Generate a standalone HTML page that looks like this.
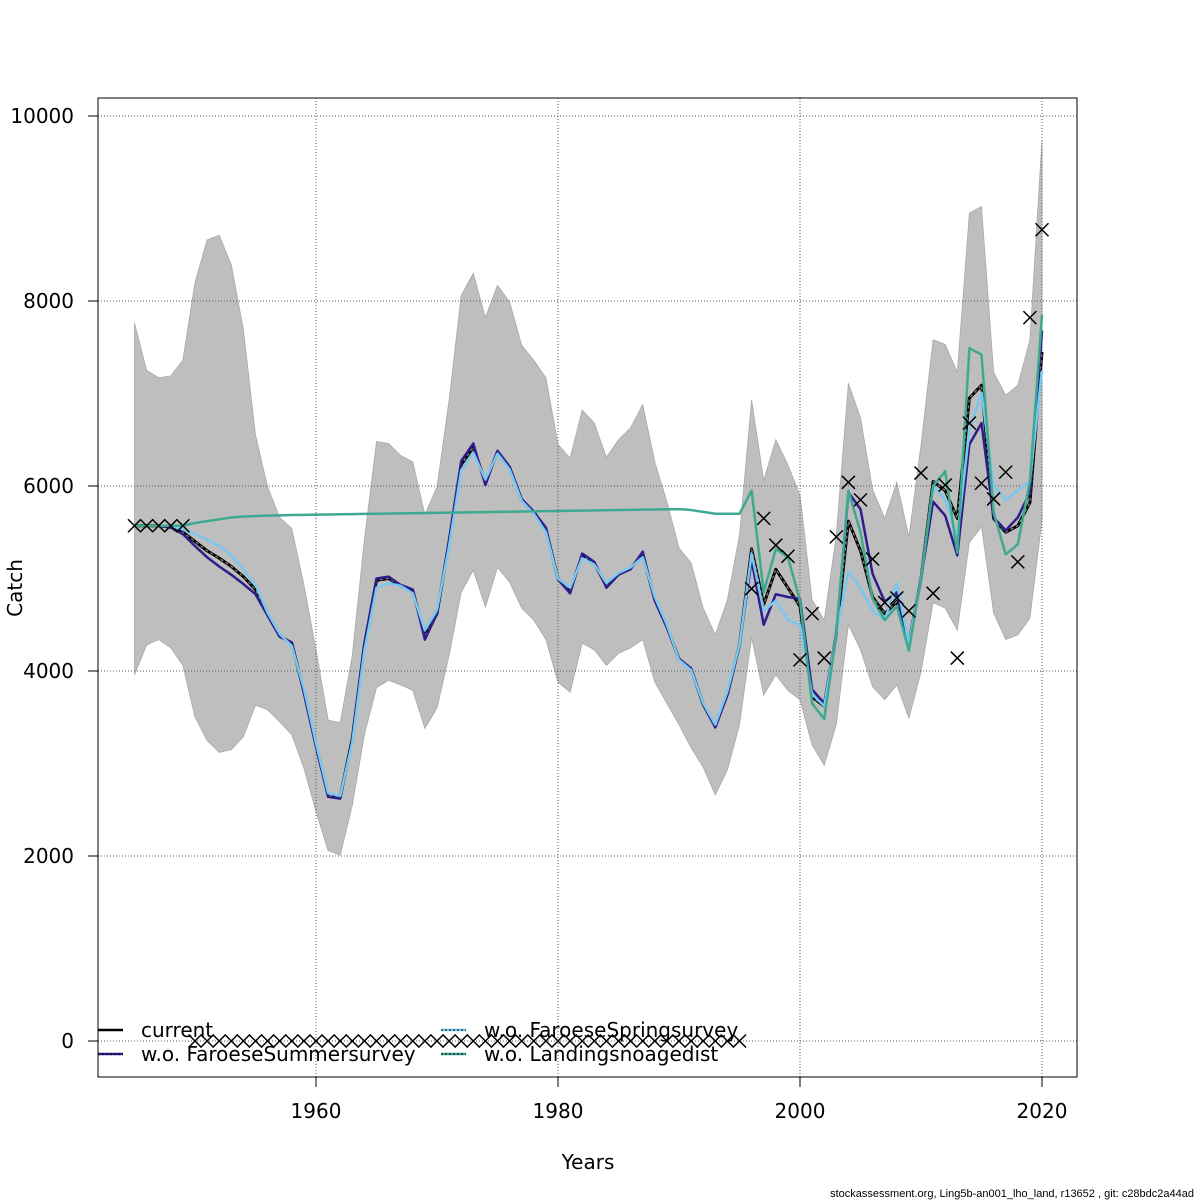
<!DOCTYPE html>
<html><head><meta charset="utf-8"><style>
html,body{margin:0;padding:0;background:#fff;}
svg{display:block;font-family:"DejaVu Sans","Liberation Sans",sans-serif;}
</style></head><body>
<svg id="chart" width="1200" height="1200" viewBox="0 0 1200 1200" xmlns="http://www.w3.org/2000/svg">
<rect x="0" y="0" width="1200" height="1200" fill="#fff"/>
<g id="band"></g>
<g id="grid"></g>
<g id="lines"></g>
<g id="obs"></g>
<rect x="98" y="98" width="979" height="979" fill="none" stroke="#000" stroke-width="1"/>
<g id="axes"></g>
<text x="0" y="0" transform="translate(22,588) rotate(-90)" text-anchor="middle" font-size="20">Catch</text>
<text x="588" y="1169" text-anchor="middle" font-size="20">Years</text>
<text x="1194" y="1197" text-anchor="end" font-size="11" font-family="Liberation Sans, sans-serif">stockassessment.org, Ling5b-an001_lho_land, r13652 , git: c28bdc2a44ad</text>
<g id="legend"></g>
</svg>
<script>
const years = [];
for (let y = 1945; y <= 2020; y++) years.push(y);
const upper = [7760,7250,7170,7190,7360,8200,8660,8710,8390,7690,6550,5990,5660,5540,4930,4230,3470,3440,4170,5420,6480,6460,6330,6260,5690,5990,6930,8060,8300,7820,8170,7990,7520,7360,7170,6450,6300,6820,6680,6310,6500,6630,6880,6260,5830,5330,5170,4680,4390,4770,5470,6930,6060,6500,6230,5900,4770,4550,5470,7110,6740,5960,5650,6040,5450,6440,7580,7530,7230,8950,9020,7230,6980,7090,7580,9740];
const lower = [3960,4280,4340,4250,4060,3500,3250,3120,3150,3290,3630,3580,3450,3310,2950,2480,2060,2010,2550,3310,3820,3900,3850,3790,3380,3600,4170,4850,5090,4690,5120,4960,4680,4550,4340,3880,3770,4300,4230,4060,4190,4250,4340,3880,3650,3420,3170,2960,2660,2930,3420,4360,3740,3960,3790,3690,3200,2980,3420,4500,4230,3830,3690,3850,3490,3990,4740,4680,4440,5390,5560,4630,4340,4390,4570,5630];
const current = [5570,5570,5570,5560,5500,5400,5300,5220,5130,5020,4880,4620,4380,4300,3780,3200,2660,2640,3270,4280,4980,5000,4920,4870,4380,4620,5400,6230,6420,6040,6370,6200,5850,5720,5530,5000,4870,5250,5160,4920,5050,5110,5260,4770,4480,4130,4020,3640,3400,3750,4280,5320,4720,5100,4900,4700,3720,3620,4400,5620,5300,4800,4620,4750,4300,5000,6050,5950,5650,6950,7090,5650,5500,5570,5820,7450];
const summer = [5570,5570,5570,5550,5480,5350,5230,5130,5040,4940,4830,4600,4370,4310,3760,3180,2640,2620,3260,4300,5000,5020,4930,4880,4340,4620,5420,6270,6460,6010,6380,6210,5860,5720,5550,4990,4840,5270,5180,4900,5040,5100,5290,4760,4470,4130,4030,3650,3390,3740,4280,5200,4500,4830,4800,4780,3800,3650,4400,5930,5750,5050,4750,4850,4250,5000,5830,5680,5250,6450,6680,5660,5520,5660,5930,7680];
const spring = [5570,5570,5570,5570,5530,5480,5420,5350,5250,5100,4930,4630,4400,4270,3810,3220,2680,2650,3230,4220,4900,4950,4920,4840,4440,4660,5350,6170,6360,6070,6350,6180,5840,5700,5500,5000,4900,5220,5150,4950,5060,5120,5230,4800,4500,4120,4010,3650,3420,3780,4280,5270,4650,4760,4550,4500,3750,3620,4400,5080,4900,4650,4550,4950,4300,5000,6000,5850,5450,6600,7010,6000,5850,5950,6050,7250];
const landings = [5570,5570,5570,5570,5570,5600,5620,5640,5660,5670,5675,5680,5683,5686,5688,5690,5692,5694,5696,5698,5700,5702,5704,5706,5708,5710,5712,5714,5716,5718,5720,5722,5724,5726,5728,5730,5732,5734,5736,5738,5740,5742,5744,5746,5748,5750,5740,5720,5700,5700,5700,5950,4850,5320,5230,4760,3650,3480,4400,5950,5500,4780,4550,4700,4220,5000,6000,6160,5280,7490,7420,5720,5260,5370,6050,7850];
const obsYears = [1945,1946,1947,1948,1949,1950,1951,1952,1953,1954,1955,1956,1957,1958,1959,1960,1961,1962,1963,1964,1965,1966,1967,1968,1969,1970,1971,1972,1973,1974,1975,1976,1977,1978,1979,1980,1981,1982,1983,1984,1985,1986,1987,1988,1989,1990,1991,1992,1993,1994,1995,1996,1997,1998,1999,2000,2001,2002,2003,2004,2005,2006,2007,2008,2009,2010,2011,2012,2013,2014,2015,2016,2017,2018,2019,2020];
const obsValues = [5570,5570,5570,5570,5570,0,0,0,0,0,0,0,0,0,0,0,0,0,0,0,0,0,0,0,0,0,0,0,0,0,0,0,0,0,0,0,0,0,0,0,0,0,0,0,0,0,0,0,0,0,0,4890,5650,5360,5240,4120,4620,4140,5450,6040,5850,5210,4740,4790,4650,6140,4840,6010,4140,6680,6030,5860,6150,5180,7820,8770];
const xTicks = [1960,1980,2000,2020];
const yTicks = [0,2000,4000,6000,8000,10000];

const NS = "http://www.w3.org/2000/svg";
function X(yr){ return 316 + (yr - 1960) * 12.1; }
function Y(v){ return 1041 - v * 0.0925; }
function mk(tag, attrs, parent){
  const e = document.createElementNS(NS, tag);
  for (const k in attrs) e.setAttribute(k, attrs[k]);
  parent.appendChild(e); return e;
}
const band = document.getElementById('band');
let d = years.map((y,i)=>(i?'L':'M')+X(y)+','+Y(upper[i])).join(' ');
for (let i = years.length-1; i >= 0; i--) d += ' L'+X(years[i])+','+Y(lower[i]);
const bp = mk('path', {d: d+' Z', fill:'#bebebe', stroke:'#a8a8a8', 'stroke-width':0.8}, band);



const grid = document.getElementById('grid');
xTicks.forEach(t=>{
  const l = mk('line', {x1:X(t), x2:X(t), y1:98, y2:1077, stroke:'#555', 'stroke-width':1, 'stroke-dasharray':'1,2'}, grid);
  
  
});
yTicks.forEach(t=>{
  const l = mk('line', {x1:98, x2:1077, y1:Y(t), y2:Y(t), stroke:'#555', 'stroke-width':1, 'stroke-dasharray':'1,2'}, grid);
  
  
});

const lines = document.getElementById('lines');
function series(vals, color, w, name, dash){
  const pts = years.map((y,i)=>X(y)+','+Y(vals[i])).join(' ');
  const p = mk('polyline', {points:pts, fill:'none', stroke:color, 'stroke-width':w, 'stroke-linejoin':'round'}, lines);
  if (dash) p.setAttribute('stroke-dasharray', dash);
  
  
}
series(current, '#000', 3, 'line-current');
series(current, '#888', 1.2, 'line-current-dash', '3,3');
series(summer, '#2d1e8c', 2.5, 'line-wo-faroese-summer');
series(spring, '#79c8ef', 2.5, 'line-wo-faroese-spring');
series(landings, '#3ea991', 2.5, 'line-wo-landings-noagedist');

const obs = document.getElementById('obs');
obsYears.forEach((yr,i)=>{
  const cx = X(yr), cy = Y(obsValues[i]), s = 6.5;
  const p = mk('path', {d:`M${cx-s},${cy-s}L${cx+s},${cy+s}M${cx-s},${cy+s}L${cx+s},${cy-s}`, stroke:'#000', 'stroke-width':1.5, fill:'none'}, obs);
  
  
});

const axes = document.getElementById('axes');
xTicks.forEach(t=>{
  mk('line', {x1:X(t), x2:X(t), y1:1077, y2:1087, stroke:'#000'}, axes);
  const tx = mk('text', {x:X(t), y:1118, 'text-anchor':'middle', 'font-size':20}, axes);
  tx.textContent = t;
  
  
});
yTicks.forEach(t=>{
  mk('line', {x1:88, x2:98, y1:Y(t), y2:Y(t), stroke:'#000'}, axes);
  const tx = mk('text', {x:74, y:Y(t)+7, 'text-anchor':'end', 'font-size':20}, axes);
  tx.textContent = t;
  
  
});

const legend = document.getElementById('legend');
const legItems = [
  ['current','#000',98,1030,'legend-current'],
  ['w.o. FaroeseSummersurvey','#2d1e8c',98,1054,'legend-summer'],
  ['w.o. FaroeseSpringsurvey','#79c8ef',441,1030,'legend-spring'],
  ['w.o. Landingsnoagedist','#3ea991',441,1054,'legend-landings']
];
legItems.forEach(it=>{
  const g = mk('g', {}, legend);
  
  
  mk('line', {x1:it[2], x2:it[2]+25, y1:it[3], y2:it[3], stroke:it[1], 'stroke-width':2.5}, g);
  mk('line', {x1:it[2], x2:it[2]+25, y1:it[3], y2:it[3], stroke:'#000', 'stroke-width':1, 'stroke-dasharray':'2,2'}, g);
  const t = mk('text', {x:it[2]+43, y:it[3]+7, 'font-size':20}, g);
  t.textContent = it[0];
});
</script>
</body></html>
